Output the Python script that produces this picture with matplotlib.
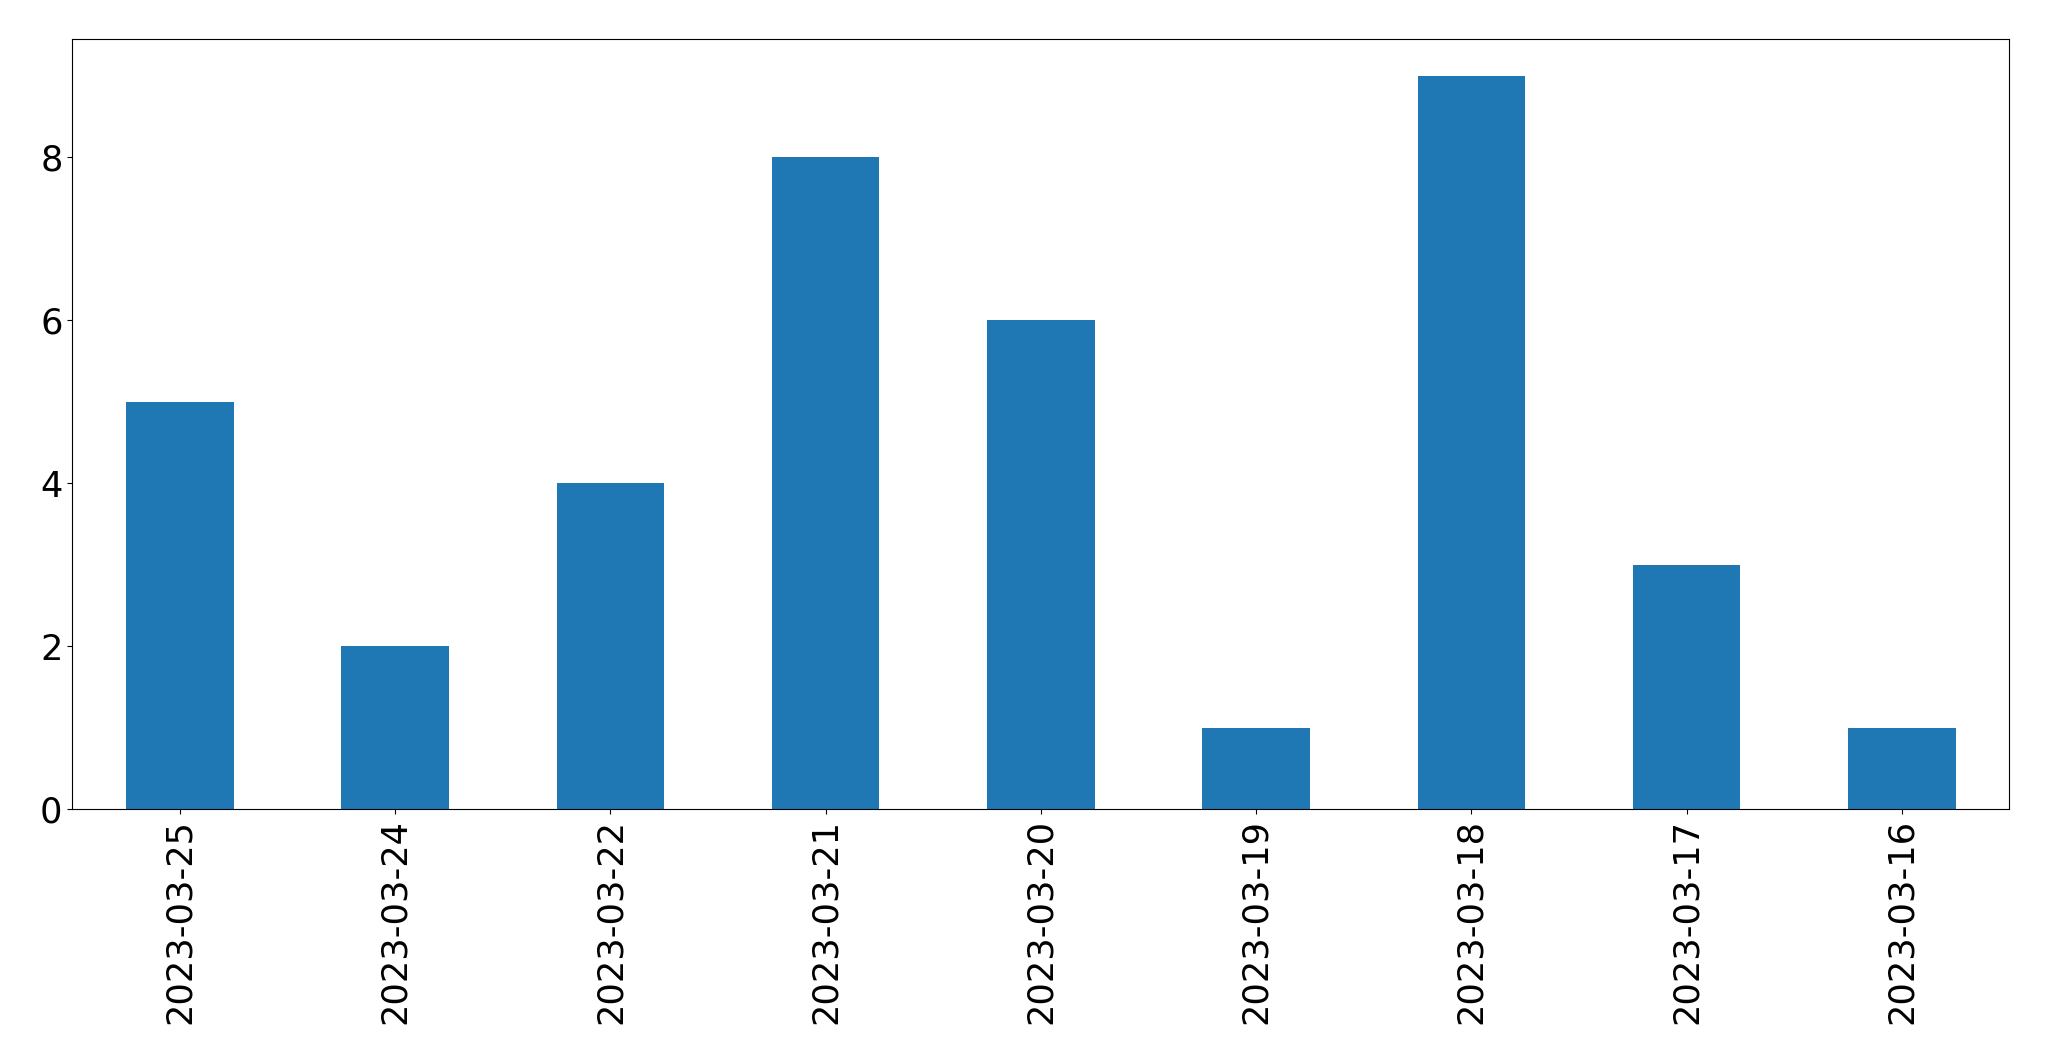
import matplotlib
matplotlib.use("Agg")
import matplotlib.pyplot as plt

# Data
dates = ["2023-03-25", "2023-03-24", "2023-03-22", "2023-03-21", "2023-03-20",
         "2023-03-19", "2023-03-18", "2023-03-17", "2023-03-16"]
counts = [5, 2, 4, 8, 6, 1, 9, 3, 1]

fig, ax = plt.subplots(figsize=(20.49, 10.61), dpi=100)
fig.subplots_adjust(left=0.0353, right=0.9807, top=0.963, bottom=0.2375)

x = list(range(len(dates)))
ax.bar(x, counts, width=0.5, color="#1f77b4")
ax.set_xlim(-0.5, len(dates) - 0.5)
ax.set_xticks(x)
ax.set_xticklabels(dates, rotation=90)
ax.tick_params(labelsize=25.3)

fig.savefig("out.png", dpi=100)
